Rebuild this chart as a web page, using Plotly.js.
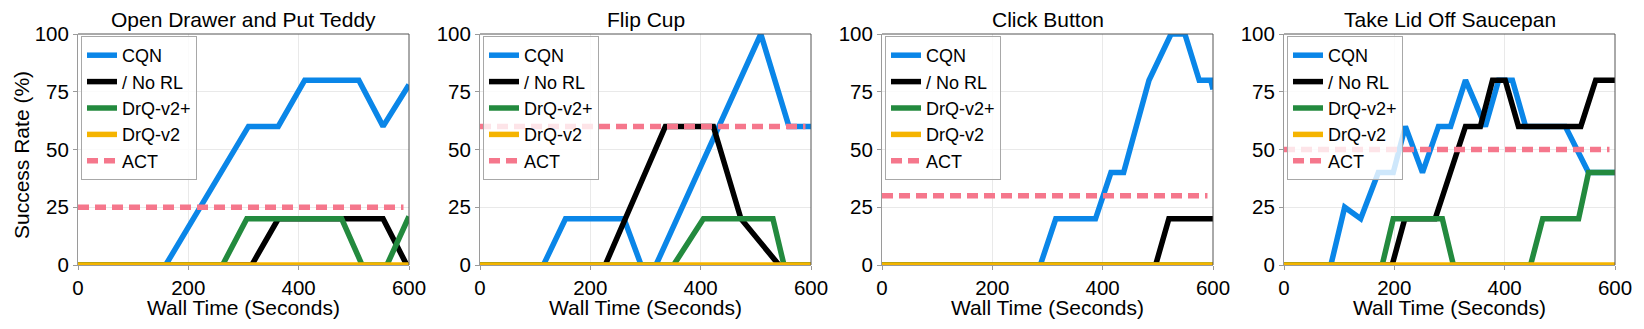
<!DOCTYPE html>
<html>
<head>
<meta charset="utf-8">
<script src="https://cdn.plot.ly/plotly-3.0.1.min.js"></script>
<style>
  html, body { margin: 0; padding: 0; background: #fff; }
  #chart { width: 1644px; height: 329px; }
</style>
</head>
<body>
<div id="chart"></div>
<script>
// panel titles and series names
const panelTitles = ['Open Drawer and Put Teddy', 'Flip Cup', 'Click Button', 'Take Lid Off Saucepan'];
const seriesNames = ['CQN', '/ No RL', 'DrQ-v2+', 'DrQ-v2', 'ACT'];
const seriesColors = ['#0a86e8', '#000000', '#238a3e', '#f5b400', '#f5778c'];

// Open Drawer and Put Teddy
const p1CqnX = [0, 159, 309, 363, 411, 509, 553, 600];
const p1CqnY = [0, 0, 60, 60, 80, 80, 60, 78];
const p1NoRlX = [0, 315, 363, 553, 596, 600];
const p1NoRlY = [0, 0, 20, 20, 0, 0];
const p1DrqPlusX = [0, 262, 306, 478, 515, 560, 600];
const p1DrqPlusY = [0, 0, 20, 20, 0, 0, 21];
const p1Act = 25;

// Flip Cup
const p2CqnX = [0, 115, 155, 261, 292, 319, 509, 560, 600];
const p2CqnY = [0, 0, 20, 20, 0, 0, 100, 60, 60];
const p2NoRlX = [0, 227, 336, 423, 473, 542, 600];
const p2NoRlY = [0, 0, 60, 60, 20, 0, 0];
const p2DrqPlusX = [0, 351, 405, 531, 551, 600];
const p2DrqPlusY = [0, 0, 20, 20, 0, 0];
const p2Act = 60;

// Click Button
const p3CqnX = [0, 287, 315, 387, 415, 438, 484, 524, 549, 575, 596, 600];
const p3CqnY = [0, 0, 20, 20, 40, 40, 80, 100, 100, 80, 80, 76];
const p3NoRlX = [0, 496, 520, 600];
const p3NoRlY = [0, 0, 20, 20];
const p3DrqPlusX = [0, 600];
const p3DrqPlusY = [0, 0];
const p3Act = 30;

// Take Lid Off Saucepan
const p4CqnX = [0, 85, 110, 139, 171, 198, 220, 251, 280, 302, 329, 365, 389, 414, 438, 510, 552, 600];
const p4CqnY = [0, 0, 25, 20, 40, 40, 60, 40, 60, 60, 80, 60, 80, 80, 60, 60, 40, 40];
const p4NoRlX = [0, 196, 219, 274, 329, 356, 378, 401, 425, 538, 565, 600];
const p4NoRlY = [0, 0, 20, 20, 60, 60, 80, 80, 60, 60, 80, 80];
const p4DrqPlusX = [0, 178, 198, 287, 307, 447, 469, 534, 552, 600];
const p4DrqPlusY = [0, 0, 20, 20, 0, 0, 20, 20, 40, 40];
const p4Act = 50;

// DrQ-v2 stays at zero everywhere, ACT is a flat reference
const drqX = [0, 600];
const drqY = [0, 0];
const actX = [0, 590];

const panels = [
  { cqn: [p1CqnX, p1CqnY], norl: [p1NoRlX, p1NoRlY], plus: [p1DrqPlusX, p1DrqPlusY], act: p1Act },
  { cqn: [p2CqnX, p2CqnY], norl: [p2NoRlX, p2NoRlY], plus: [p2DrqPlusX, p2DrqPlusY], act: p2Act },
  { cqn: [p3CqnX, p3CqnY], norl: [p3NoRlX, p3NoRlY], plus: [p3DrqPlusX, p3DrqPlusY], act: p3Act },
  { cqn: [p4CqnX, p4CqnY], norl: [p4NoRlX, p4NoRlY], plus: [p4DrqPlusX, p4DrqPlusY], act: p4Act },
];

const W = 1644, H = 329;
const marginTop = 34, marginBottom = 64;
const plotH = H - marginTop - marginBottom;
const plotLeft = [78, 480, 882, 1284];
const plotWidth = 331;
const FONT = 'Liberation Sans, Arial, sans-serif';

// pixel row -> paper y
const py = (px) => (H - marginBottom - px) / plotH;

const data = [];
const layout = {
  width: W, height: H,
  margin: { l: 0, r: 0, t: marginTop, b: marginBottom },
  paper_bgcolor: '#fff', plot_bgcolor: '#fff',
  font: { family: FONT, color: '#000', size: 21 },
  annotations: [], shapes: [],
};

panels.forEach((p, i) => {
  const n = i === 0 ? '' : String(i + 1);
  const xa = 'x' + n, ya = 'y' + n;
  const lg = 'legend' + n;
  const series = [p.cqn, p.norl, p.plus, [drqX, drqY], [actX, [p.act, p.act]]];
  series.forEach((s, k) => {
    data.push({
      x: s[0], y: s[1], xaxis: xa, yaxis: ya, legend: lg,
      type: 'scatter', mode: 'lines', name: seriesNames[k],
      line: { color: seriesColors[k], width: 5.5, dash: k === 4 ? '11px,6px' : 'solid' },
      hoverinfo: 'skip',
    });
  });

  const x0 = plotLeft[i] / W, x1 = (plotLeft[i] + plotWidth) / W;
  const axisCommon = {
    showline: true, linecolor: '#9a9a9a', linewidth: 1,
    showgrid: true, gridcolor: '#e9e9e9', gridwidth: 1,
    zeroline: false, ticks: 'outside', ticklen: 4, tickcolor: '#9a9a9a',
    tickfont: { size: 20.5, family: FONT }, automargin: false, fixedrange: true,
  };
  layout['xaxis' + n] = Object.assign({}, axisCommon, {
    domain: [x0, x1], anchor: ya, range: [0, 600],
    tickvals: [0, 200, 400, 600],
  });
  layout['yaxis' + n] = Object.assign({}, axisCommon, {
    domain: [0, 1], anchor: xa, range: [0, 100],
    tickvals: [0, 25, 50, 75, 100],
  });
  layout[lg] = {
    x: (plotLeft[i] + 3) / W, y: py(36), xanchor: 'left', yanchor: 'top',
    bgcolor: 'rgba(255,255,255,0.8)', bordercolor: '#a8a8a8', borderwidth: 1,
    font: { size: 18, family: FONT }, tracegroupgap: 0,
  };
  layout.annotations.push({
    text: panelTitles[i], xref: 'paper', yref: 'paper',
    x: (x0 + x1) / 2, y: 1, xanchor: 'center', yanchor: 'bottom', yshift: 1,
    showarrow: false, font: { size: 21, family: FONT },
  });
  layout.annotations.push({
    text: 'Wall Time (Seconds)', xref: 'paper', yref: 'paper',
    x: (x0 + x1) / 2, y: py(307), xanchor: 'center', yanchor: 'middle',
    showarrow: false, font: { size: 21, family: FONT },
  });
  // darker frame on top and right
  layout.shapes.push(
    { type: 'line', xref: xa + ' domain', yref: ya + ' domain', x0: 0, x1: 1, y0: 1, y1: 1, line: { color: '#555', width: 1 } },
    { type: 'line', xref: xa + ' domain', yref: ya + ' domain', x0: 1, x1: 1, y0: 0, y1: 1, line: { color: '#555', width: 1 } }
  );
});

layout.annotations.push({
  text: 'Success Rate (%)', xref: 'paper', yref: 'paper',
  x: 21 / W, y: py(155), xanchor: 'center', yanchor: 'middle', textangle: -90,
  showarrow: false, font: { size: 21, family: FONT },
});

Plotly.newPlot('chart', data, layout, { displayModeBar: false, staticPlot: true });
</script>
</body>
</html>
